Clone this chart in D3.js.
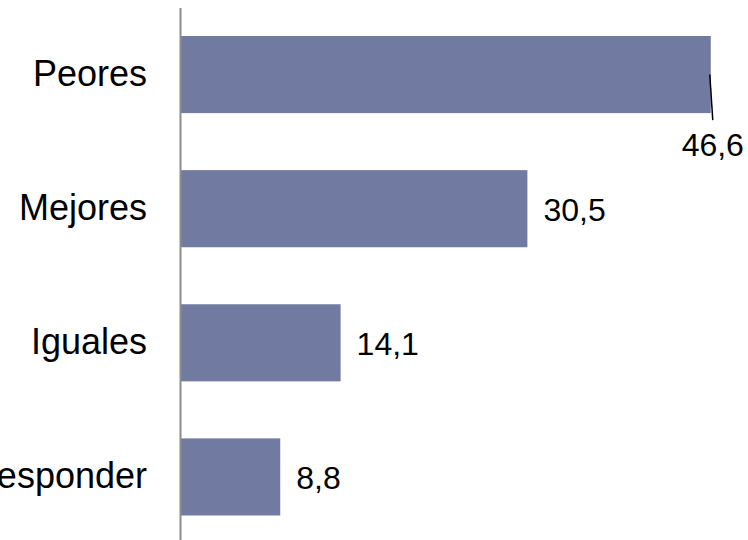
<!DOCTYPE html>
<meta charset="utf-8">
<style>
  body { margin: 0; background: #fff; }
  text { font-family: 'Liberation Sans', Arial, sans-serif; fill: #000; }
</style>
<body>
<script src="https://cdnjs.cloudflare.com/ajax/libs/d3/7.8.5/d3.min.js"></script>
<script>
// data
var categories = ["Peores", "Mejores", "Iguales", "No responder"];
var values = [46.6, 30.5, 14.1, 8.8];
var valueLabels = ["46,6", "30,5", "14,1", "8,8"];

var width = 748, height = 540;

var svg = d3.select("body").append("svg")
  .attr("width", width)
  .attr("height", height);

// scales
var x = d3.scaleLinear().domain([0, 50]).range([180, 749.5]);
var y = d3.scaleBand().domain(categories).range([7.5, 544])
  .paddingInner(0.425).paddingOuter(0.2125);

var data = categories.map(function (c, i) {
  return { cat: c, value: values[i], label: valueLabels[i] };
});

// bars
svg.selectAll(".bar")
  .data(data)
  .join("rect")
  .attr("class", "bar")
  .attr("x", x(0))
  .attr("y", function (d) { return y(d.cat); })
  .attr("width", function (d) { return x(d.value) - x(0); })
  .attr("height", y.bandwidth())
  .attr("fill", "#717ba1");

// y axis (line only, labels drawn by the axis)
var yAxis = svg.append("g")
  .attr("transform", "translate(" + x(0) + ",0)")
  .call(d3.axisLeft(y).tickSize(0).tickPadding(33).tickSizeOuter(0));
yAxis.select(".domain").attr("stroke", "#8c8c8c").attr("stroke-width", 2);
yAxis.selectAll("text")
  .attr("font-size", 36)
  .attr("font-family", "'Liberation Sans', Arial, sans-serif")
  .attr("fill", "#000");

// value labels; the first one sits under its bar with a leader line
svg.selectAll(".val")
  .data(data)
  .join("text")
  .attr("class", "val")
  .attr("font-size", 32)
  .attr("x", function (d, i) { return i === 0 ? x(d.value) + 2 : x(d.value) + 16; })
  .attr("y", function (d, i) {
    return i === 0 ? y(d.cat) + y.bandwidth() + 43 : y(d.cat) + y.bandwidth() / 2 + 12;
  })
  .attr("text-anchor", function (d, i) { return i === 0 ? "middle" : "start"; })
  .text(function (d) { return d.label; });

var first = data[0];
svg.append("line")
  .attr("x1", x(first.value) - 1)
  .attr("y1", y(first.cat) + y.bandwidth() / 2)
  .attr("x2", x(first.value) + 2)
  .attr("y2", y(first.cat) + y.bandwidth() + 7)
  .attr("stroke", "#000")
  .attr("stroke-width", 1.5);
</script>
</body>
